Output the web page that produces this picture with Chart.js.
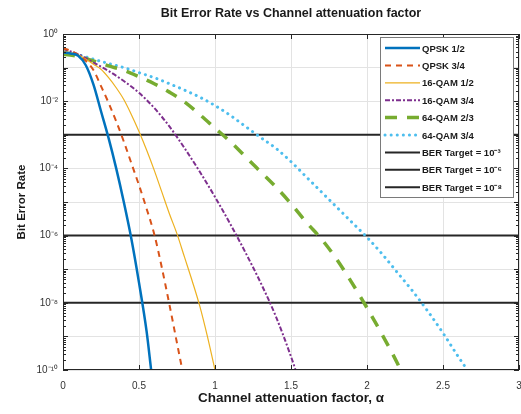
<!DOCTYPE html>
<html>
<head>
<meta charset="utf-8">
<script src="https://cdn.jsdelivr.net/npm/chart.js@4.4.0/dist/chart.umd.min.js"></script>
<style>
  html, body { margin: 0; padding: 0; background: #fff; }
  #wrap { width: 521px; height: 414px; }
</style>
</head>
<body>
<div id="wrap"><canvas id="ber"></canvas></div>
<script>
// values; BER given as log10 exponents
const alphaQpsk12 = [0, 0.05, 0.1, 0.15, 0.2, 0.25, 0.3, 0.35, 0.4, 0.45, 0.5, 0.55, 0.58]
const logQpsk12   = [-0.55, -0.58, -0.65, -0.93, -1.5, -2.3, -3.1, -4.0, -5.0, -6.1, -7.4, -8.85, -10]

const alphaQpsk34 = [0, 0.05, 0.1, 0.15, 0.2, 0.25, 0.3, 0.35, 0.4, 0.45, 0.5, 0.55, 0.6, 0.65, 0.7, 0.75, 0.785]
const logQpsk34   = [-0.42, -0.5, -0.62, -0.8, -1.07, -1.55, -2.05, -2.6, -3.2, -3.85, -4.5, -5.2, -5.95, -6.95, -8.05, -9.2, -10]

const alphaQam16_12 = [0, 0.1, 0.15, 0.2, 0.25, 0.3, 0.35, 0.4, 0.45, 0.5, 0.55, 0.6, 0.65, 0.7, 0.75, 0.8, 0.85, 0.9, 0.95, 1.0]
const logQam16_12   = [-0.5, -0.62, -0.75, -0.9, -1.05, -1.3, -1.6, -1.95, -2.4, -2.9, -3.45, -4.05, -4.7, -5.35, -5.95, -6.65, -7.35, -8.1, -9.0, -10]

const alphaQam16_34 = [0, 0.1, 0.2, 0.3, 0.4, 0.5, 0.6, 0.7, 0.8, 0.9, 1.0, 1.1, 1.2, 1.3, 1.4, 1.5, 1.53]
const logQam16_34   = [-0.45, -0.6, -0.85, -1.1, -1.4, -1.75, -2.2, -2.75, -3.4, -4.1, -4.85, -5.65, -6.5, -7.4, -8.4, -9.6, -10]

const alphaQam64_23 = [0, 0.1, 0.2, 0.3, 0.4, 0.5, 0.6, 0.7, 0.8, 0.9, 1.0, 1.1, 1.2, 1.3, 1.4, 1.5, 1.6, 1.7, 1.8, 1.9, 2.0, 2.1, 2.2, 2.22]
const logQam64_23   = [-0.6, -0.67, -0.8, -0.95, -1.08, -1.27, -1.48, -1.73, -2.02, -2.4, -2.8, -3.2, -3.65, -4.1, -4.55, -5.05, -5.6, -6.1, -6.7, -7.4, -8.15, -8.95, -9.8, -10]

const alphaQam64_34 = [0, 0.1, 0.2, 0.3, 0.4, 0.5, 0.6, 0.7, 0.8, 0.9, 1.0, 1.1, 1.2, 1.3, 1.4, 1.5, 1.6, 1.7, 1.8, 1.9, 2.0, 2.1, 2.2, 2.3, 2.4, 2.5, 2.6, 2.66]
const logQam64_34   = [-0.55, -0.62, -0.75, -0.88, -1.0, -1.15, -1.3, -1.48, -1.67, -1.88, -2.13, -2.42, -2.75, -3.08, -3.4, -3.8, -4.25, -4.7, -5.15, -5.6, -6.05, -6.55, -7.1, -7.65, -8.25, -8.9, -9.6, -10]

const targetAlpha = [0, 3]
const berTargets = [1e-3, 1e-6, 1e-8]
const targetLabels = ['BER Target = 10\u207B\u00B3', 'BER Target = 10\u207B\u2076', 'BER Target = 10\u207B\u2078']

const xTicks = [0, 0.5, 1, 1.5, 2, 2.5, 3]
const yExponents = [0, -1, -2, -3, -4, -5, -6, -7, -8, -9, -10]
const minorMantissas = [2, 3, 4, 5, 6, 7, 8, 9]
const supDigits = {'0':'\u2070','1':'\u00B9','2':'\u00B2','3':'\u00B3','4':'\u2074','5':'\u2075','6':'\u2076','7':'\u2077','8':'\u2078','9':'\u2079','-':'\u207B'}

function pts(xs, logs) {
    return xs.map((x, i) => ({x: x, y: Math.pow(10, logs[i])}))
}
function sup(n) {
    return String(n).split('').map(c => supDigits[c]).join('')
}

const FONT = '"Liberation Sans", Arial, sans-serif'

const datasets = [
    {label: 'QPSK 1/2', data: pts(alphaQpsk12, logQpsk12), borderColor: '#0072BD', borderWidth: 2.5, borderDash: []},
    {label: 'QPSK 3/4', data: pts(alphaQpsk34, logQpsk34), borderColor: '#D95319', borderWidth: 2, borderDash: [6, 5]},
    {label: '16-QAM 1/2', data: pts(alphaQam16_12, logQam16_12), borderColor: '#EDB120', borderWidth: 1.2, borderDash: []},
    {label: '16-QAM 3/4', data: pts(alphaQam16_34, logQam16_34), borderColor: '#7E2F8E', borderWidth: 2, borderDash: [5, 2, 2, 2]},
    {label: '64-QAM 2/3', data: pts(alphaQam64_23, logQam64_23), borderColor: '#77AC30', borderWidth: 3.5, borderDash: [12, 10]},
    {label: '64-QAM 3/4', data: pts(alphaQam64_34, logQam64_34), borderColor: '#4DBEEE', borderWidth: 3, borderDash: [0.1, 6], borderCapStyle: 'round'}
]
berTargets.forEach((b, i) => {
    datasets.push({
        label: targetLabels[i],
        data: targetAlpha.map(x => ({x: x, y: b})),
        borderColor: '#262626', borderWidth: 2, borderDash: []
    })
})
datasets.forEach(d => {
    d.pointRadius = 0
    d.fill = false
    d.cubicInterpolationMode = 'monotone'
})

// title, box, inward ticks and the in-axes legend drawn like the matlab figure
const figurePlugin = {
    id: 'figure',
    afterDraw(chart) {
        const ctx = chart.ctx
        const a = chart.chartArea
        const xs = chart.scales.x, ys = chart.scales.y
        ctx.save()
        ctx.strokeStyle = '#262626'
        ctx.lineWidth = 1
        ctx.strokeRect(a.left + 0.5, a.top + 0.5, a.right - a.left - 1, a.bottom - a.top - 1)

        // inward tick marks
        ctx.beginPath()
        xTicks.forEach(v => {
            const px = Math.round(xs.getPixelForValue(v)) + 0.5
            ctx.moveTo(px, a.bottom); ctx.lineTo(px, a.bottom - 5)
            ctx.moveTo(px, a.top); ctx.lineTo(px, a.top + 5)
        })
        yExponents.forEach(e => {
            const py = Math.round(ys.getPixelForValue(Math.pow(10, e))) + 0.5
            ctx.moveTo(a.left, py); ctx.lineTo(a.left + 5, py)
            ctx.moveTo(a.right, py); ctx.lineTo(a.right - 5, py)
            if (e > -10) {
                minorMantissas.forEach(m => {
                    const pm = Math.round(ys.getPixelForValue(m * Math.pow(10, e - 1))) + 0.5
                    ctx.moveTo(a.left, pm); ctx.lineTo(a.left + 3, pm)
                    ctx.moveTo(a.right, pm); ctx.lineTo(a.right - 3, pm)
                })
            }
        })
        ctx.stroke()

        ctx.fillStyle = '#1a1a1a'
        ctx.font = 'bold 12.5px ' + FONT
        ctx.textAlign = 'center'
        ctx.textBaseline = 'middle'
        ctx.fillText('Bit Error Rate vs Channel attenuation factor', (a.left + a.right) / 2, 14)

        // legend
        const lx = 380, ly = 37, lw = 133, lh = 160
        ctx.fillStyle = '#fff'
        ctx.fillRect(lx, ly, lw, lh)
        ctx.strokeStyle = '#7a7a7a'
        ctx.lineWidth = 1
        ctx.strokeRect(lx + 0.5, ly + 0.5, lw, lh)
        ctx.textAlign = 'left'
        ctx.font = 'bold 9.5px ' + FONT
        chart.data.datasets.forEach((d, i) => {
            const y = ly + 11 + i * 17.4
            ctx.beginPath()
            ctx.strokeStyle = d.borderColor
            ctx.lineWidth = d.borderWidth
            ctx.setLineDash(d.borderDash || [])
            ctx.lineCap = d.borderCapStyle || 'butt'
            ctx.moveTo(385, y)
            ctx.lineTo(420, y)
            ctx.stroke()
            ctx.setLineDash([])
            ctx.fillStyle = '#1a1a1a'
            ctx.fillText(d.label, 422, y + 1)
        })
        ctx.restore()
    }
}

new Chart(document.getElementById('ber'), {
    type: 'line',
    data: {datasets: datasets},
    options: {
        responsive: true,
        maintainAspectRatio: false,
        animation: false,
        layout: {padding: {top: 34, right: 2, left: 0, bottom: 0}},
        plugins: {
            legend: {display: false},
            tooltip: {enabled: false},
            title: {display: false}
        },
        scales: {
            x: {
                type: 'linear',
                min: 0, max: 3,
                afterFit(scale) {
                    scale.height = 44
                    scale.paddingLeft = 0
                    scale.paddingRight = 0
                },
                afterBuildTicks(scale) { scale.ticks = xTicks.map(v => ({value: v})) },
                border: {display: false},
                grid: {color: '#e3e3e3', drawTicks: false},
                ticks: {
                    padding: 10,
                    color: '#333',
                    font: {family: FONT, size: 10},
                    callback: v => String(v)
                },
                title: {
                    display: true,
                    text: 'Channel attenuation factor, \u03B1',
                    color: '#1a1a1a',
                    font: {family: FONT, size: 13.5, weight: 'bold'},
                    padding: {top: 0, bottom: 8}
                }
            },
            y: {
                type: 'logarithmic',
                min: 1e-10, max: 1,
                afterFit(scale) {
                    scale.width = 63
                    scale.paddingTop = 0
                    scale.paddingBottom = 0
                },
                afterBuildTicks(scale) { scale.ticks = yExponents.map(e => ({value: Math.pow(10, e)})) },
                border: {display: false},
                grid: {color: '#e3e3e3', drawTicks: false},
                ticks: {
                    autoSkip: false,
                    padding: 5,
                    color: '#333',
                    font: {family: FONT, size: 10},
                    callback: function(v) {
                        const e = Math.round(Math.log10(v))
                        return e % 2 === 0 ? '10' + sup(e) : ''
                    }
                },
                title: {
                    display: true,
                    text: 'Bit Error Rate',
                    color: '#1a1a1a',
                    font: {family: FONT, size: 11.5, weight: 'bold'},
                    padding: {top: 15, bottom: 0}
                }
            }
        }
    },
    plugins: [figurePlugin]
})
</script>
</body>
</html>
